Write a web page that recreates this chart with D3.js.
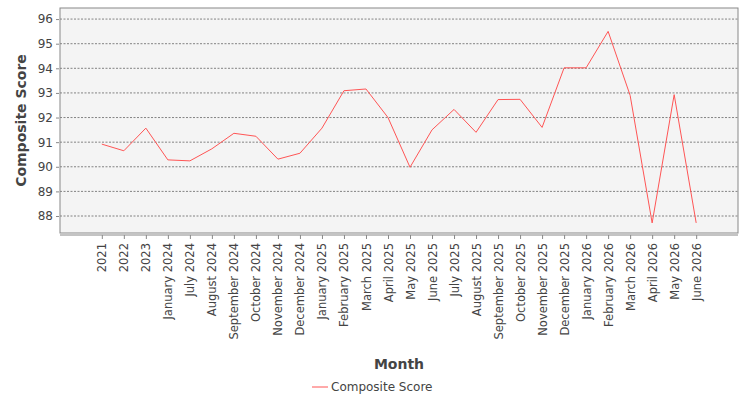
<!DOCTYPE html>
<html>
<head>
<meta charset="utf-8">
<script src="https://cdn.jsdelivr.net/npm/d3@7"></script>
<style>
  body { margin: 0; background: #fff; font-family: "DejaVu Sans", sans-serif; }
</style>
</head>
<body>
<div id="chart"></div>
<script>
const months = ['2021', '2022', '2023', 'January 2024', 'July 2024', 'August 2024', 'September 2024',
  'October 2024', 'November 2024', 'December 2024', 'January 2025', 'February 2025', 'March 2025',
  'April 2025', 'May 2025', 'June 2025', 'July 2025', 'August 2025', 'September 2025', 'October 2025',
  'November 2025', 'December 2025', 'January 2026', 'February 2026', 'March 2026', 'April 2026',
  'May 2026', 'June 2026'];
const scores = [90.92, 90.65, 91.57, 90.28, 90.24, 90.73, 91.36, 91.24, 90.31, 90.55, 91.57, 93.09,
  93.16, 92.0, 89.98, 91.5, 92.33, 91.4, 92.73, 92.74, 91.6, 94.02, 94.02, 95.5, 92.9, 87.72,
  92.93, 87.72];
const yTicks = [88, 89, 90, 91, 92, 93, 94, 95, 96];

const W = 750, H = 400;
const plot = { left: 60, right: 738, top: 8, bottom: 233 };

const svg = d3.select('#chart').append('svg').attr('width', W).attr('height', H);

const x = d3.scalePoint().domain(months).range([plot.left, plot.right]).padding(1.9);
const y = d3.scaleLinear().domain([87.31, 96.45]).range([plot.bottom, plot.top]);

// plot background
svg.append('rect')
  .attr('x', plot.left).attr('y', plot.top)
  .attr('width', plot.right - plot.left).attr('height', plot.bottom - plot.top)
  .attr('fill', '#f4f4f4');

// gridlines
svg.append('g').selectAll('line').data(yTicks).enter().append('line')
  .attr('x1', plot.left).attr('x2', plot.right)
  .attr('y1', d => y(d)).attr('y2', d => y(d))
  .attr('stroke', '#666').attr('stroke-width', 0.8)
  .attr('stroke-dasharray', '2,1.5');

svg.append('rect')
  .attr('x', plot.left).attr('y', plot.top)
  .attr('width', plot.right - plot.left).attr('height', plot.bottom - plot.top)
  .attr('fill', 'none').attr('stroke', '#888');

// y axis
const yAxis = svg.append('g')
  .attr('transform', `translate(${plot.left - 1},0)`)
  .call(d3.axisLeft(y).tickValues(yTicks).tickSize(3).tickFormat(d3.format('d')));
yAxis.select('.domain').remove();
yAxis.selectAll('line').attr('stroke', '#888');
yAxis.selectAll('text').attr('font-size', 12).attr('fill', '#444')
  .attr('font-family', '"DejaVu Sans", sans-serif');

// x axis
const xAxis = svg.append('g')
  .attr('transform', `translate(0,${plot.bottom + 2})`)
  .call(d3.axisBottom(x).tickSize(4));
xAxis.select('.domain').attr('stroke', '#888').attr('d', `M${plot.left},0H${plot.right}`);
xAxis.selectAll('line').attr('stroke', '#888');
xAxis.selectAll('text')
  .attr('font-size', 11.5).attr('fill', '#444')
  .attr('font-family', '"DejaVu Sans", sans-serif')
  .attr('transform', 'rotate(-90)')
  .attr('text-anchor', 'end')
  .attr('x', -8).attr('y', 0).attr('dy', '0.35em');

// line
svg.append('path')
  .datum(scores)
  .attr('fill', 'none')
  .attr('stroke', '#ff5555')
  .attr('stroke-width', 1)
  .attr('d', d3.line().x((d, i) => x(months[i])).y(d => y(d)));

// axis titles
svg.append('text')
  .attr('x', (plot.left + plot.right) / 2).attr('y', 369)
  .attr('text-anchor', 'middle')
  .attr('font-size', 14).attr('font-weight', 'bold').attr('fill', '#444')
  .text('Month');

svg.append('text')
  .attr('transform', `translate(26,${(plot.top + plot.bottom) / 2}) rotate(-90)`)
  .attr('text-anchor', 'middle')
  .attr('font-size', 14).attr('font-weight', 'bold').attr('fill', '#444')
  .text('Composite Score');

// legend
const lg = svg.append('g').attr('transform', 'translate(312,387)');
lg.append('line').attr('x1', 0).attr('x2', 16).attr('y1', 0).attr('y2', 0)
  .attr('stroke', '#ff5555').attr('stroke-width', 1);
lg.append('text').attr('x', 19).attr('y', 0).attr('dy', '0.35em')
  .attr('font-size', 12).attr('fill', '#444')
  .text('Composite Score');
</script>
</body>
</html>
